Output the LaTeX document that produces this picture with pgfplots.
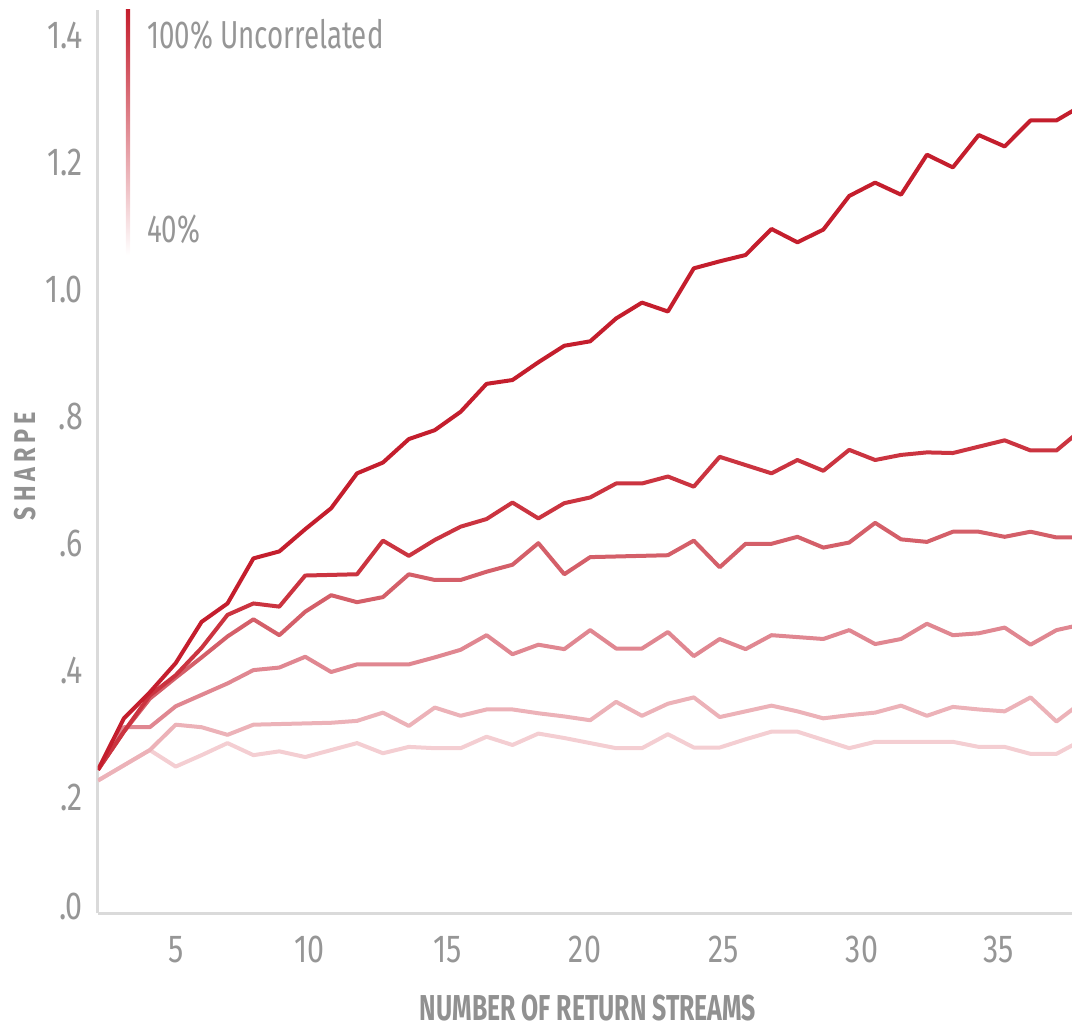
\documentclass[border=0pt]{standalone}
\usepackage{pgfplots}
\usepackage{pgfplotstable}
\pgfplotsset{compat=1.18}
\usepackage{fontspec}
\setmainfont{Fira Sans}[FakeStretch=0.78]
\newfontfamily\titlefont{Fira Sans}[FakeStretch=0.69]
\newfontfamily\legfont{Fira Sans}[FakeStretch=0.71]
\definecolor{s1}{RGB}{196,30,45}
\definecolor{s2}{RGB}{203,52,64}
\definecolor{s3}{RGB}{212,95,105}
\definecolor{s4}{RGB}{224,135,145}
\definecolor{s5}{RGB}{236,178,184}
\definecolor{s6}{RGB}{244,206,210}
\definecolor{txt}{RGB}{150,150,150}
\definecolor{ttl}{RGB}{145,145,145}
\definecolor{axl}{RGB}{218,218,218}

\pgfplotstableread{
x s1 s2 s3 s4 s5 s6
2 .243 .243 .243 .243 .226 .226
3 .324 .303 .303 .31 .25 .25
4 .365 .36 .355 .31 .274 .274
5 .411 .392 .388 .343 .314 .248
6 .476 .435 .42 .361 .31 .266
7 .505 .487 .453 .379 .298 .285
8 .576 .505 .48 .40 .314 .266
9 .587 .50 .455 .404 .315 .272
10 .622 .549 .492 .421 .316 .263
11 .655 .55 .518 .397 .317 .274
12 .710 .551 .507 .409 .32 .285
13 .727 .604 .515 .409 .333 .269
14 .764 .58 .551 .409 .312 .279
15 .778 .605 .542 .42 .341 .277
16 .807 .626 .542 .432 .328 .277
17 .851 .638 .555 .455 .338 .295
18 .857 .664 .566 .425 .338 .282
19 .885 .639 .60 .44 .332 .30
20 .911 .663 .551 .433 .327 .293
21 .918 .672 .578 .463 .321 .285
22 .954 .694 .579 .434 .35 .277
23 .979 .694 .58 .434 .328 .277
24 .965 .705 .581 .46 .347 .299
25 1.033 .689 .604 .422 .357 .278
26 1.044 .736 .562 .449 .326 .278
27 1.054 .723 .599 .433 .335 .291
28 1.095 .71 .599 .455 .344 .303
29 1.074 .731 .61 .452 .335 .303
30 1.094 .714 .593 .449 .324 .29
31 1.147 .747 .601 .463 .329 .277
32 1.168 .731 .632 .441 .333 .287
33 1.149 .739 .606 .449 .344 .287
34 1.212 .743 .602 .473 .328 .287
35 1.192 .742 .618 .455 .342 .287
36 1.243 .752 .618 .458 .338 .279
37 1.225 .762 .61 .467 .335 .279
38 1.266 .746 .618 .44 .357 .268
39 1.266 .746 .609 .463 .319 .268
40 1.29 .78 .609 .472 .35 .29
}\datatable

\begin{document}
\begin{tikzpicture}
\begin{axis}[
  name=ax,
  scale only axis,
  width=487pt, height=451.5pt,
  xmin=2, xmax=39.6,
  ymin=0.0173, ymax=1.44,
  axis lines=left,
  axis line style={-, draw=axl, line width=1.5pt},
  major tick length=0pt,
  xtick={5.03,10.18,15.5,20.8,26.16,31.49,36.78},
  xticklabels={5,10,15,20,25,30,35},
  ytick={0.027,0.2,0.4,0.6,0.8,1.0,1.2,1.4},
  yticklabels={.0,.2,.4,.6,.8,1.0,1.2,1.4},
  tick label style={font=\fontsize{19.5}{20}\selectfont, text=txt},
  xticklabel style={yshift=-8pt},
  yticklabel style={xshift=-4pt},
  xlabel={NUMBER OF RETURN STREAMS},
  xlabel style={at={(axis description cs:0.503,-0.105)}, anchor=center,
    font=\titlefont\fontsize{18}{19}\selectfont\bfseries, text=ttl},
  ylabel={S\,H\,A\,R\,P\,E},
  ylabel style={at={(axis description cs:-0.075,0.495)}, anchor=center,
    font=\fontsize{15}{16}\selectfont\bfseries, text=ttl},
  every axis plot/.append style={line width=2pt, line join=round, no markers},
]
\addplot[s6] table[x=x,y=s6]{\datatable};
\addplot[s5] table[x=x,y=s5]{\datatable};
\addplot[s4] table[x=x,y=s4]{\datatable};
\addplot[s3] table[x=x,y=s3]{\datatable};
\addplot[s2] table[x=x,y=s2]{\datatable};
\addplot[s1] table[x=x,y=s1]{\datatable};
\shade[top color=s1, bottom color=white] (axis cs:3.08,1.054) rectangle (axis cs:3.24,1.44);
\node[anchor=west, inner sep=0pt, text=txt, font=\legfont\fontsize{19.5}{20}\selectfont] at (axis cs:3.884,1.401) {100\% Uncorrelated};
\node[anchor=west, inner sep=0pt, text=txt, font=\legfont\fontsize{19.5}{20}\selectfont] at (axis cs:3.884,1.094) {40\%};
\end{axis}
\pgfresetboundingbox
\path ([xshift=-49pt,yshift=-58.5pt]ax.south west) rectangle ([yshift=5pt]ax.north east);
\end{tikzpicture}
\end{document}
